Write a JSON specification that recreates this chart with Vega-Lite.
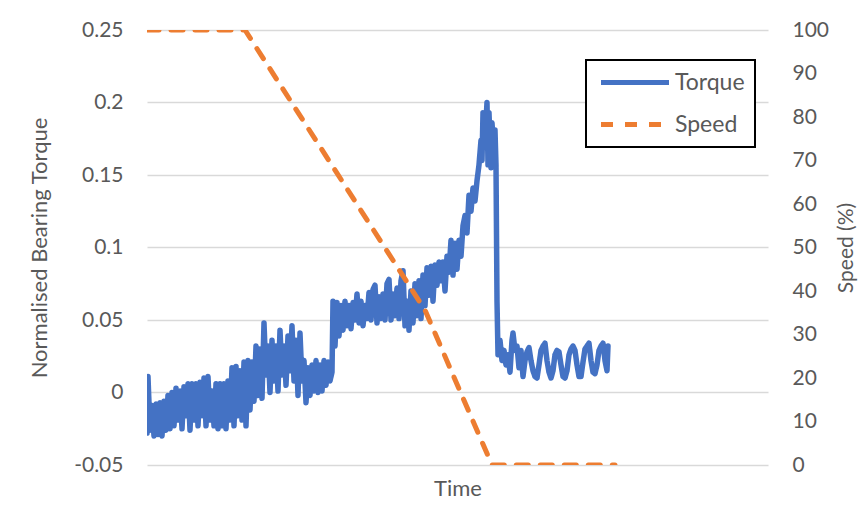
{
  "$schema": "https://vega.github.io/schema/vega-lite/v6.json",
  "width": 621,
  "height": 435,
  "autosize": {"type": "none"},
  "padding": {"left": 147, "top": 30, "right": 91, "bottom": 45},
  "background": "white",
  "config": {
    "view": {"stroke": null},
    "font": "Lato",
    "axis": {"labelFont": "Lato", "titleFont": "Lato", "labelColor": "#595959", "titleColor": "#595959", "titleFontWeight": "normal"},
    "legend": {"labelFont": "Lato"}
  },
  "datasets": {
    "torque": [
      {"t":0,"v":-0.028},{"t":1,"v":0.011},{"t":3,"v":-0.026},{"t":5,"v":-0.009},{"t":7,"v":-0.030},{"t":9,"v":-0.008},{"t":11,"v":-0.029},{"t":13,"v":-0.007},{"t":15,"v":-0.030},{"t":17,"v":-0.006},{"t":19,"v":-0.026},{"t":21,"v":-0.002},{"t":23,"v":-0.025},{"t":25,"v":0.000},{"t":27,"v":-0.023},{"t":29,"v":0.003},{"t":31,"v":-0.019},{"t":33,"v":0.001},{"t":35,"v":-0.025},{"t":37,"v":0.004},{"t":39,"v":-0.016},{"t":41,"v":0.006},{"t":43,"v":-0.026},{"t":45,"v":0.006},{"t":47,"v":-0.019},{"t":49,"v":0.006},{"t":51,"v":-0.023},{"t":53,"v":0.007},{"t":55,"v":-0.016},{"t":57,"v":0.010},{"t":59,"v":-0.023},{"t":61,"v":0.011},{"t":63,"v":-0.019},{"t":65,"v":0.001},{"t":67,"v":-0.023},{"t":69,"v":0.006},{"t":71,"v":-0.025},{"t":73,"v":0.006},{"t":75,"v":-0.023},{"t":77,"v":0.006},{"t":79,"v":-0.025},{"t":81,"v":0.008},{"t":83,"v":-0.019},{"t":85,"v":0.017},{"t":87,"v":-0.023},{"t":89,"v":0.018},{"t":91,"v":-0.016},{"t":93,"v":0.015},{"t":95,"v":-0.019},{"t":97,"v":0.021},{"t":99,"v":-0.023},{"t":101,"v":0.022},{"t":103,"v":-0.012},
      {"t":105,"v":0.021},{"t":107,"v":-0.006},{"t":109,"v":0.032},{"t":111,"v":-0.002},{"t":113,"v":0.030},{"t":115,"v":-0.004},{"t":117,"v":0.048},{"t":119,"v":0.012},{"t":121,"v":0.032},{"t":123,"v":0.000},{"t":125,"v":0.036},{"t":127,"v":0.008},{"t":129,"v":0.032},{"t":131,"v":0.001},{"t":133,"v":0.043},{"t":135,"v":0.012},{"t":137,"v":0.032},{"t":139,"v":0.005},{"t":141,"v":0.039},{"t":143,"v":0.015},{"t":145,"v":0.046},{"t":147,"v":0.008},{"t":149,"v":0.036},{"t":151,"v":-0.002},{"t":153,"v":0.041},{"t":155,"v":0.008},{"t":157,"v":0.022},{"t":159,"v":-0.007},{"t":161,"v":0.017},{"t":163,"v":-0.002},{"t":165,"v":0.019},{"t":167,"v":0.001},{"t":169,"v":0.022},{"t":171,"v":0.000},{"t":173,"v":0.019},{"t":175,"v":0.001},{"t":177,"v":0.022},{"t":179,"v":0.005},{"t":181,"v":0.021},{"t":183,"v":0.008},{"t":185,"v":0.014},{"t":186,"v":0.063},{"t":188,"v":0.032},
      {"t":190,"v":0.062},{"t":192,"v":0.039},{"t":194,"v":0.060},{"t":196,"v":0.043},{"t":198,"v":0.063},{"t":200,"v":0.046},{"t":202,"v":0.060},{"t":204,"v":0.044},{"t":206,"v":0.062},{"t":208,"v":0.050},{"t":210,"v":0.068},{"t":212,"v":0.048},{"t":214,"v":0.063},{"t":216,"v":0.046},{"t":218,"v":0.060},{"t":220,"v":0.051},{"t":222,"v":0.069},{"t":224,"v":0.050},{"t":226,"v":0.071},{"t":228,"v":0.074},{"t":230,"v":0.048},{"t":232,"v":0.066},{"t":234,"v":0.051},{"t":236,"v":0.068},{"t":238,"v":0.050},{"t":240,"v":0.075},{"t":242,"v":0.078},{"t":244,"v":0.050},{"t":246,"v":0.068},{"t":248,"v":0.053},{"t":250,"v":0.072},{"t":252,"v":0.051},{"t":254,"v":0.077},{"t":256,"v":0.084},{"t":258,"v":0.046},{"t":260,"v":0.063},{"t":262,"v":0.043},{"t":264,"v":0.070},{"t":266,"v":0.048},{"t":268,"v":0.075},{"t":270,"v":0.053},{"t":272,"v":0.077},{"t":274,"v":0.051},{"t":276,"v":0.081},{"t":278,"v":0.060},{"t":280,"v":0.086},{"t":282,"v":0.067},{"t":284,"v":0.087},{"t":286,"v":0.063},{"t":288,"v":0.088},{"t":290,"v":0.074},{"t":292,"v":0.090},{"t":294,"v":0.077},
      {"t":296,"v":0.090},{"t":298,"v":0.070},{"t":300,"v":0.094},{"t":302,"v":0.083},{"t":304,"v":0.105},{"t":306,"v":0.081},{"t":308,"v":0.103},{"t":310,"v":0.085},{"t":312,"v":0.105},{"t":314,"v":0.094},{"t":316,"v":0.115},{"t":318,"v":0.122},{"t":320,"v":0.110},{"t":322,"v":0.136},{"t":324,"v":0.125},{"t":326,"v":0.141},{"t":328,"v":0.132},{"t":330,"v":0.146},{"t":332,"v":0.157},{"t":334,"v":0.174},{"t":335,"v":0.160},{"t":336,"v":0.193},{"t":338,"v":0.174},{"t":340,"v":0.200},{"t":341,"v":0.157},{"t":342,"v":0.193},{"t":344,"v":0.155},{"t":345,"v":0.186},{"t":347,"v":0.164},{"t":348,"v":0.181},{"t":349,"v":0.157},{"t":350,"v":0.063},{"t":351,"v":0.026},
      {"t":353,"v":0.036},{"t":355,"v":0.022},{"t":357,"v":0.029},{"t":359,"v":0.019},{"t":361,"v":0.026},{"t":363,"v":0.014},{"t":365,"v":0.036},{"t":366,"v":0.041},{"t":368,"v":0.029},{"t":370,"v":0.032},{"t":372,"v":0.017},{"t":374,"v":0.029},{"t":376,"v":0.011},{"t":378,"v":0.022},{"t":380,"v":0.028},{"t":382,"v":0.031},{"t":384,"v":0.022},{"t":386,"v":0.015},{"t":388,"v":0.011},{"t":390,"v":0.010},{"t":392,"v":0.019},{"t":394,"v":0.029},{"t":396,"v":0.032},{"t":398,"v":0.034},{"t":400,"v":0.022},{"t":402,"v":0.014},{"t":404,"v":0.010},{"t":406,"v":0.015},{"t":408,"v":0.026},{"t":410,"v":0.029},{"t":412,"v":0.028},{"t":414,"v":0.019},{"t":416,"v":0.011},{"t":418,"v":0.010},{"t":420,"v":0.015},{"t":422,"v":0.026},{"t":424,"v":0.030},{"t":426,"v":0.032},{"t":428,"v":0.029},{"t":430,"v":0.019},{"t":432,"v":0.011},{"t":434,"v":0.011},{"t":436,"v":0.021},{"t":438,"v":0.030},{"t":440,"v":0.032},{"t":442,"v":0.034},{"t":444,"v":0.022},{"t":446,"v":0.014},{"t":448,"v":0.013},{"t":450,"v":0.019},{"t":452,"v":0.029},{"t":454,"v":0.032},{"t":456,"v":0.034},{"t":458,"v":0.022},{"t":460,"v":0.015},{"t":461,"v":0.032}
    ],
    "speed": [
      {"t":0,"s":100},{"t":98,"s":100},{"t":278,"s":35.6},{"t":345,"s":0},{"t":468,"s":0}
    ]
  },
  "layer": [
    {
      "data": {"name": "torque"},
      "mark": {"type": "line", "strokeWidth": 5.5, "strokeJoin": "round", "strokeCap": "round", "clip": true},
      "encoding": {
        "x": {"field": "t", "type": "quantitative", "scale": {"domain": [0, 621], "nice": false, "zero": false},
              "axis": {"title": "Time", "labels": false, "ticks": false, "domain": false, "grid": false, "titleFontSize": 22, "titlePadding": 13}},
        "y": {"field": "v", "type": "quantitative", "scale": {"domain": [-0.05, 0.25], "nice": false, "zero": false},
              "axis": {"title": "Normalised Bearing Torque", "orient": "left", "values": [-0.05, 0, 0.05, 0.1, 0.15, 0.2, 0.25], "format": ".2~f",
                       "labelExpr": "replace(datum.label, '\u2212', '-')",
                       "labelFontSize": 21, "titleFontSize": 22, "ticks": false, "domain": false, "labelPadding": 24, "titlePadding": 22,
                       "grid": true, "gridColor": "#d9d9d9", "gridWidth": 1.3}},
        "color": {"datum": "Torque", "type": "nominal", "scale": {"domain": ["Torque", "Speed"], "range": ["#4472C4", "#ED7D31"]},
                  "legend": {"title": null, "orient": "none", "legendX": 439, "legendY": 30, "strokeColor": "#000000",
                             "padding": 10, "symbolType": "M-0.75,0H6.05", "symbolSize": 400, "symbolStrokeWidth": 5, "labelFontSize": 23,
                             "labelColor": "#595959", "rowPadding": 17, "labelOffset": 54, "fillColor": "white",
                             "labelExpr": "datum.label + '\u00a0\u00a0\u00a0'",
                             "encode": {"legend": {"update": {"strokeWidth": {"value": 2}}}}}},
        "strokeDash": {"datum": "Torque", "type": "nominal", "scale": {"domain": ["Torque", "Speed"], "range": [[1, 0], [12, 12]]},
                       "legend": {"title": null, "orient": "none", "legendX": 439, "legendY": 30, "strokeColor": "#000000",
                             "padding": 10, "symbolType": "M-0.75,0H6.05", "symbolSize": 400, "symbolStrokeWidth": 5, "labelFontSize": 23,
                             "labelColor": "#595959", "rowPadding": 17, "labelOffset": 54, "fillColor": "white",
                             "labelExpr": "datum.label + '\u00a0\u00a0\u00a0'",
                             "encode": {"legend": {"update": {"strokeWidth": {"value": 2}}}}}}
      }
    },
    {
      "data": {"name": "speed"},
      "mark": {"type": "line", "strokeWidth": 5, "strokeCap": "round", "clip": true},
      "encoding": {
        "x": {"field": "t", "type": "quantitative"},
        "y": {"field": "s", "type": "quantitative", "scale": {"domain": [0, 100], "nice": false},
              "axis": {"title": "Speed (%)", "orient": "right", "values": [0, 10, 20, 30, 40, 50, 60, 70, 80, 90, 100],
                       "labelFontSize": 21, "titleFontSize": 21, "ticks": false, "domain": false, "grid": false, "labelPadding": 24,
                       "titleAngle": 270, "titlePadding": 28}},
        "color": {"datum": "Speed", "type": "nominal"},
        "strokeDash": {"datum": "Speed", "type": "nominal"}
      }
    }
  ],
  "resolve": {"scale": {"y": "independent"}}
}
